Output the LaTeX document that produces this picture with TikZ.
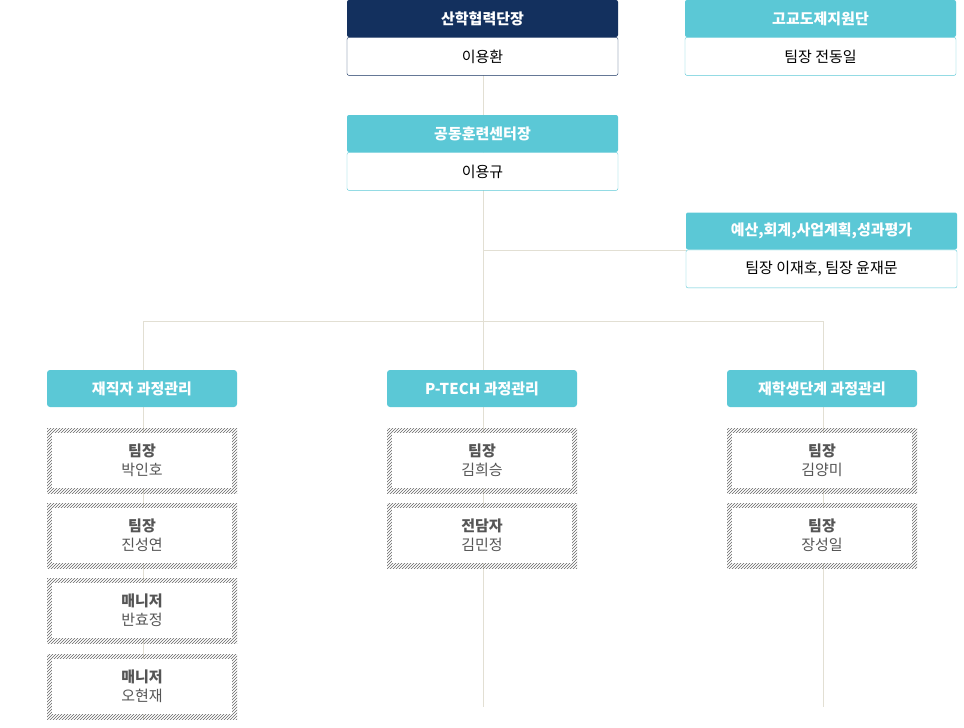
\documentclass[tikz,border=0pt]{standalone}
\usepackage{fontspec}
\setmainfont{Noto Sans CJK KR}
\usetikzlibrary{positioning,patterns}
\definecolor{navy}{HTML}{13305E}
\definecolor{teal}{HTML}{5BC8D6}
\definecolor{linec}{HTML}{E2DFD3}
\definecolor{txt}{HTML}{555555}
\begin{document}
\begin{tikzpicture}[x=1pt, y=-1pt]
    \tikzset{head/.style={fill=#1, text=white, minimum width=271pt, minimum height=37pt,
        inner sep=0pt, font=\fontsize{15}{18}\selectfont\bfseries, rounded corners=2pt},
      body/.style={draw=#1, fill=white, minimum width=271pt, minimum height=38pt,
        inner sep=0pt, font=\fontsize{15}{18}\selectfont, rounded corners=2pt},
      colhead/.style={fill=teal, text=white, minimum width=190pt, minimum height=37pt,
        inner sep=0pt, font=\fontsize{15}{18}\selectfont\bfseries, rounded corners=3pt},
      hatch/.style={pattern=north east lines, pattern color=gray!80!black,
        minimum width=190pt, minimum height=65pt, inner sep=0pt},
      member/.style={fill=white, minimum width=180pt, minimum height=55pt, inner sep=0pt,
        text=txt, align=center, font=\fontsize{15}{19}\selectfont},
      link/.style={draw=linec, line width=0.8pt}}
    \useasboundingbox (0,0) rectangle (964,728);

    % connectors
    \coordinate (top) at (483,75);
    \coordinate (mid) at (483,321);
    \coordinate (bl) at (143,321);
    \coordinate (br) at (823,321);
    \coordinate (bud) at (483,250);
    \path[link] (top) -- (mid) (bl) -- (br)
        (bl) -- (143,719) (mid) -- (483,707) (br) -- (823,707)
        (bud) -- (686,250);

    % upper boxes
    \node[head=navy] (dean) at (482.5,18.5) {산학협력단장};
    \node[body=navy, below=0pt of dean] (dean_n) {이용환};
    \node[head=teal] (sup) at (820.5,18.5) {고교도제지원단};
    \node[body=teal, below=0pt of sup] (sup_n) {팀장 전동일};
    \node[head=teal] (ctr) at (482.5,133.5) {공동훈련센터장};
    \node[body=teal, below=0pt of ctr] (ctr_n) {이용규};
    \node[head=teal] (bud_h) at (821.5,231) {예산,회계,사업계획,성과평가};
    \node[body=teal, below=0pt of bud_h] (bud_n) {팀장 이재호, 팀장 윤재문};

    % column headers
    \node[colhead] (c1) at (142,388.5) {재직자 과정관리};
    \node[colhead] (c2) at (482,388.5) {P-TECH 과정관리};
    \node[colhead] (c3) at (822,388.5) {재학생단계 과정관리};

    % members
    \foreach \x/\y/\r/\n in {142/460.5/팀장/박인호, 142/535.5/팀장/진성연,
        142/610.5/매니저/반효정, 142/686.5/매니저/오현재,
        482/460.5/팀장/김희승, 482/535.5/전담자/김민정,
        822/460.5/팀장/김양미, 822/535.5/팀장/장성일} {
      \node[hatch] at (\x,\y) {};
      \node[member] at (\x,\y) {\textbf{\r}\\\n};
    }
\end{tikzpicture}
\end{document}
